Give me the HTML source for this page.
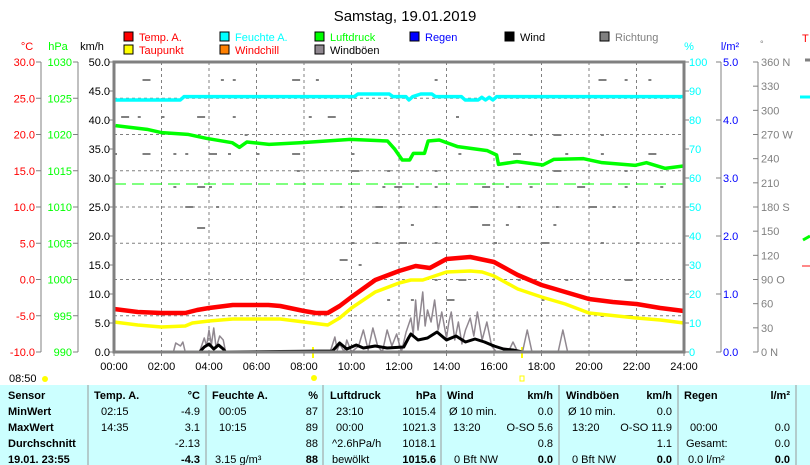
<!DOCTYPE html>
<html><head><meta charset="utf-8"><style>
html,body{margin:0;padding:0;background:#fff;width:810px;height:465px;overflow:hidden}
svg{display:block;font-family:"Liberation Sans",sans-serif}
</style></head><body>
<svg id="s" width="810" height="465" xmlns="http://www.w3.org/2000/svg">
<text x="405" y="21" font-size="15" text-anchor="middle" fill="#000">Samstag, 19.01.2019</text>
<g font-size="11">
<rect x="124" y="32" width="9" height="9" fill="#f00" stroke="#000"/><text x="139" y="41" fill="#f00">Temp. A.</text>
<rect x="220" y="32" width="9" height="9" fill="#0ff" stroke="#000"/><text x="235" y="41" fill="#0ff">Feuchte A.</text>
<rect x="315" y="32" width="9" height="9" fill="#0f0" stroke="#000"/><text x="330" y="41" fill="#0f0">Luftdruck</text>
<rect x="410" y="32" width="9" height="9" fill="#00f" stroke="#000"/><text x="425" y="41" fill="#00f">Regen</text>
<rect x="505" y="32" width="9" height="9" fill="#000" stroke="#000"/><text x="520" y="41" fill="#000">Wind</text>
<rect x="600" y="32" width="9" height="9" fill="#808080" stroke="#000"/><text x="615" y="41" fill="#808080">Richtung</text>
<rect x="124" y="45" width="9" height="9" fill="#ff0" stroke="#000"/><text x="139" y="54" fill="#f00">Taupunkt</text>
<rect x="220" y="45" width="9" height="9" fill="#ff8000" stroke="#000"/><text x="235" y="54" fill="#f00">Windchill</text>
<rect x="315" y="45" width="9" height="9" fill="#908890" stroke="#000"/><text x="330" y="54" fill="#000">Windböen</text>
<text x="27" y="50" fill="#f00" text-anchor="middle">°C</text>
<text x="58" y="50" fill="#0f0" text-anchor="middle">hPa</text>
<text x="92" y="50" fill="#000" text-anchor="middle">km/h</text>
<text x="689" y="50" fill="#0ff" text-anchor="middle">%</text>
<text x="730" y="50" fill="#00f" text-anchor="middle">l/m²</text>
<text x="760" y="47" fill="#808080" font-size="9">°</text>
<text x="802" y="42" fill="#f00">T</text>
</g>
<g id="axes" font-size="11"></g>
<g id="plot"></g>
<rect x="0" y="385" width="810" height="80" fill="#ccffff"/>
<g id="tbl" font-size="11"></g>
</svg>
<script>
const S='http://www.w3.org/2000/svg',g=document.getElementById('axes'),p=document.getElementById('plot'),t=document.getElementById('tbl');
function el(par,n,a,txt){const e=document.createElementNS(S,n);for(const k in a)e.setAttribute(k,a[k]);if(txt!=null)e.textContent=txt;par.appendChild(e);return e;}
const L=114,R=684,T=62,B=352;const X=h=>L+h*23.75;
for(let i=1;i<12;i++)el(p,'line',{x1:X(i*2),x2:X(i*2),y1:T,y2:B,stroke:'#808080','stroke-dasharray':'3,3'});
for(let i=1;i<8;i++){const y=T+i*36.25;el(p,'line',{x1:L,x2:R,y1:y,y2:y,stroke:'#808080','stroke-dasharray':'3,3'});}
function axis(x,labels,col,anchorX,anc){el(g,'line',{x1:x,x2:x,y1:T,y2:B,stroke:'#808080'});
 labels.forEach((l,i)=>{const y=T+i*(B-T)/(labels.length-1);el(g,'line',{x1:x-5,x2:x,y1:y,y2:y,stroke:'#808080'});el(g,'text',{x:anchorX,y:y+4,fill:col,'text-anchor':anc},l);});}
axis(41,['30.0','25.0','20.0','15.0','10.0','5.0','0.0','-5.0','-10.0'],'#f00',35,'end');
axis(78,['1030','1025','1020','1015','1010','1005','1000','995','990'],'#0f0',72,'end');
for(let i=0;i<=10;i++){const y=T+i*29;el(g,'line',{x1:L-5,x2:L,y1:y,y2:y,stroke:'#808080'});el(g,'text',{x:110,y:y+4,fill:'#000','text-anchor':'end'},(50-i*5).toFixed(1));}
for(let i=0;i<=10;i++){const y=T+i*29;el(g,'line',{x1:R,x2:R+5,y1:y,y2:y,stroke:'#808080'});el(g,'text',{x:689,y:y+4,fill:'#0ff'},String(100-i*10));}
el(g,'line',{x1:721,x2:721,y1:T,y2:B,stroke:'#808080'});
for(let i=0;i<=5;i++){const y=T+i*58;el(g,'line',{x1:716,x2:721,y1:y,y2:y,stroke:'#808080'});el(g,'text',{x:723,y:y+4,fill:'#00f'},(5-i).toFixed(1));}
el(g,'line',{x1:758,x2:758,y1:T,y2:B,stroke:'#808080'});
const dl={0:'360 N',3:'270 W',6:'180 S',9:'90  O',12:'0   N'};
for(let i=0;i<=12;i++){const y=T+i*290/12;el(g,'line',{x1:753,x2:758,y1:y,y2:y,stroke:'#808080'});el(g,'text',{x:761,y:y+4,fill:'#808080','xml:space':'preserve'},dl[i]||String(360-i*30));}
for(let i=0;i<=12;i++){el(g,'line',{x1:X(i*2),x2:X(i*2),y1:B,y2:B+4,stroke:'#808080'});el(g,'text',{x:X(i*2),y:370,'text-anchor':'middle',fill:'#000'},String(i*2).padStart(2,'0')+':00');}
el(g,'text',{x:9,y:382,fill:'#000'},'08:50');
el(g,'circle',{cx:45,cy:379,r:3,fill:'#ff0'});
el(g,'circle',{cx:314,cy:378,r:3,fill:'#ff0'});
el(g,'rect',{x:520,y:376,width:4,height:5,fill:'none',stroke:'#ff0'});
el(g,'line',{x1:313,x2:313,y1:347,y2:358,stroke:'#ff0','stroke-width':2});
el(g,'line',{x1:522,x2:522,y1:347,y2:358,stroke:'#ff0','stroke-width':2});
const dd=[[1.2,80],[4.5,80],[5,80],[7.5,80],[8.5,80],[13.5,80],[20.4,80],[21.5,80],[22.5,80],[0.3,117],[1,117],[2,117],[3.5,117],[5,117],[8.2,117],[9,117],[14.4,117],[0,154],[1.2,154],[2.5,154],[3,154],[4,154],[4.8,154],[6,154],[7.5,154],[10,154],[14.5,154],[16.8,154],[19,154],[20.5,154],[22.5,154],[5.5,135],[17.5,135],[18.5,135],[20.5,135],[7.7,171],[10,171],[11.5,171],[13.5,171],[18.5,171],[21.5,171],[2.5,187],[3.5,187],[4,187],[11.3,187],[11.8,187],[12.7,187],[13.5,187],[15.5,187],[16.5,187],[17.5,187],[19.5,187],[21.5,187],[23,187],[3,207],[4.3,207],[9.5,207],[11,207],[12,207],[13.5,207],[15,207],[17,207],[18.6,207],[20,207],[21,207],[12.5,225],[15.5,225],[16.5,225],[18.5,225],[3.5,228],[10,243],[11,243],[12,243],[13.5,243],[16,243],[18,243],[20.5,243],[22,243],[9.5,260],[10.3,265],[13.5,280],[14.5,280],[17,280],[19,280],[21.5,280],[11.5,300],[12.5,300],[14,300],[18,300],[20.5,316],[21.5,316]];
dd.forEach(([h,y],i)=>el(p,'line',{x1:X(h),x2:X(h)+(i%3==0?8:3),y1:y,y2:y,stroke:'#808080','stroke-width':2}));
function pl(pts,col,w,extra){el(p,'polyline',Object.assign({points:pts.map(q=>q.join(',')).join(' '),fill:'none',stroke:col,'stroke-width':w,'stroke-linejoin':'round'},extra||{}));}
el(p,'line',{x1:L,x2:R,y1:184,y2:184,stroke:'#0f0','stroke-dasharray':'12,6'});
const c6=(a)=>a.map(([px,py])=>[110+px/2.703,60+py/3]);
pl(c6([[15,197],[60,203],[100,208],[140,218],[210,223],[260,235],[330,248],[350,262],[370,246],[430,253],[520,248],[650,238],[750,243],[770,268],[790,300],[810,300],[820,280],[850,280],[860,243],[890,240],[940,260],[1020,272],[1045,285],[1050,313],[1100,305],[1170,315],[1200,298],[1280,296],[1330,308],[1420,316],[1450,308],[1500,325],[1550,318]]),'#0f0',3.5);
pl(c6([[15,120],[190,120],[200,110],[660,110],[670,102],[755,102],[765,110],[800,110],[808,120],[818,110],[840,102],[870,102],[880,110],[950,110],[960,120],[995,120],[1005,112],[1015,120],[1025,112],[1035,120],[1045,110],[1550,110]]),'#0ff',3.5);
const hx=a=>a.map(([h,y])=>[X(h),y]);
pl(hx([[0,352],[2.5,352],[2.6,343],[2.8,346],[2.9,342],[3,352],[3.6,352],[3.8,338],[3.9,346],[4,330],[4.1,345],[4.2,328],[4.3,348],[4.45,336],[4.6,340],[4.7,352],[9.1,352],[9.3,337],[9.4,350],[9.5,344],[9.7,352],[9.8,340],[10,352],[10.3,346],[10.5,330],[10.7,350],[10.9,328],[11.1,346],[11.3,352],[11.5,330],[11.7,346],[11.9,334],[12.1,352],[12.3,332],[12.5,318],[12.6,334],[12.7,300],[12.8,330],[12.9,312],[13,292],[13.1,326],[13.2,310],[13.35,322],[13.5,300],[13.65,330],[13.8,312],[14,338],[14.1,322],[14.2,312],[14.35,340],[14.5,322],[14.65,344],[14.8,330],[15,318],[15.15,336],[15.3,312],[15.5,340],[15.7,322],[15.9,346],[16.1,352],[16.6,352],[16.8,342],[17,352],[17.2,352],[17.4,330],[17.6,352],[18.7,352],[18.9,330],[19.1,352],[24,352]]),'#908890',1.5);
pl(hx([[0,352],[3.6,352],[3.8,347],[4,344],[4.2,349],[4.4,345],[4.6,349],[4.7,352],[9.2,351],[9.5,343],[9.8,349],[10.2,345],[10.5,348],[11,346],[11.5,348],[12.2,347],[12.4,338],[12.5,334],[12.8,340],[13.2,338],[13.6,332],[13.8,336],[14,340],[14.4,336],[14.8,342],[15.2,339],[15.6,342],[16,346],[16.4,349],[16.8,350],[17.2,352],[24,352]]),'#000',3);
pl(hx([[0,322],[1,325],[2,327],[3,326],[3.3,323],[4,321],[5,319],[7,319],[8,322],[9,325],[9.5,318],[10,308],[11,292],[12,283],[12.5,280],[13,280],[14,272],[15,271],[15.5,272],[16,276],[17,289],[18,297],[19,304],[20,313],[22,318],[23,320],[24,323]]),'#ff0',3.5);
pl(hx([[0,309],[1,312],[2,313],[3,313],[3.5,310],[4,308],[5,305],[6.5,305],[7,306],[8,311],[8.5,313],[9,313],[9.5,306],[10,297],[11,280],[12,271],[12.7,266],[13.3,268],[14,259],[15,257],[16,262],[17,275],[18,285],[19,292],[20,299],[21,302],[22,304],[23,308],[24,311]]),'#f00',4.5);
el(p,'line',{x1:L,x2:R,y1:352,y2:352,stroke:'#00f','stroke-width':2});
el(p,'rect',{x:L,y:T,width:R-L,height:B-T,fill:'none',stroke:'#808080','stroke-width':3});
[88,206,323,441,559,678,796].forEach(x=>el(t,'line',{x1:x,x2:x,y1:385,y2:465,stroke:'#999'}));
const rows=[399,415,431,447,463];
function tx(x,y,s,bold,anc){el(t,'text',{x:x,y:y,'font-weight':bold?'bold':'normal','text-anchor':anc||'start',fill:'#000'},s);}
['Sensor','MinWert','MaxWert','Durchschnitt','19.01. 23:55'].forEach((s,i)=>tx(8,rows[i],s,1));
tx(94,399,'Temp. A.',1);tx(200,399,'°C',1,'end');
tx(212,399,'Feuchte A.',1);tx(318,399,'%',1,'end');
tx(330,399,'Luftdruck',1);tx(436,399,'hPa',1,'end');
tx(447,399,'Wind',1);tx(553,399,'km/h',1,'end');
tx(566,399,'Windböen',1);tx(672,399,'km/h',1,'end');
tx(684,399,'Regen',1);tx(790,399,'l/m²',1,'end');
[[101,'02:15'],[200,'-4.9','e'],[219,'00:05'],[318,'87','e'],[336,'23:10'],[436,'1015.4','e'],[449,'Ø 10 min.'],[553,'0.0','e'],[568,'Ø 10 min.'],[672,'0.0','e']].forEach(a=>tx(a[0],415,a[1],0,a[2]?'end':'start'));
[[101,'14:35'],[200,'3.1','e'],[219,'10:15'],[318,'89','e'],[336,'00:00'],[436,'1021.3','e'],[453,'13:20'],[553,'O-SO 5.6','e'],[572,'13:20'],[672,'O-SO 11.9','e'],[690,'00:00'],[790,'0.0','e']].forEach(a=>tx(a[0],431,a[1],0,a[2]?'end':'start'));
[[200,'-2.13','e'],[318,'88','e'],[332,'^2.6hPa/h'],[436,'1018.1','e'],[553,'0.8','e'],[672,'1.1','e'],[686,'Gesamt:'],[790,'0.0','e']].forEach(a=>tx(a[0],447,a[1],0,a[2]?'end':'start'));
[[200,'-4.3','e',1],[215,'3.15 g/m³'],[318,'88','e',1],[332,'bewölkt'],[436,'1015.6','e',1],[454,'0 Bft NW'],[553,'0.0','e',1],[572,'0 Bft NW'],[672,'0.0','e',1],[688,'0.0 l/m²'],[790,'0.0','e',1]].forEach(a=>tx(a[0],463,a[1],a[3],a[2]?'end':'start'));
el(g,'line',{x1:800,x2:810,y1:97,y2:97,stroke:'#0ff','stroke-width':3});
el(g,'line',{x1:803,x2:810,y1:240,y2:236,stroke:'#0f0','stroke-width':3});
el(g,'line',{x1:802,x2:810,y1:266,y2:266,stroke:'#f88','stroke-width':2});
el(g,'line',{x1:805,x2:810,y1:60,y2:60,stroke:'#808080','stroke-width':3});
</script>
</body></html>
